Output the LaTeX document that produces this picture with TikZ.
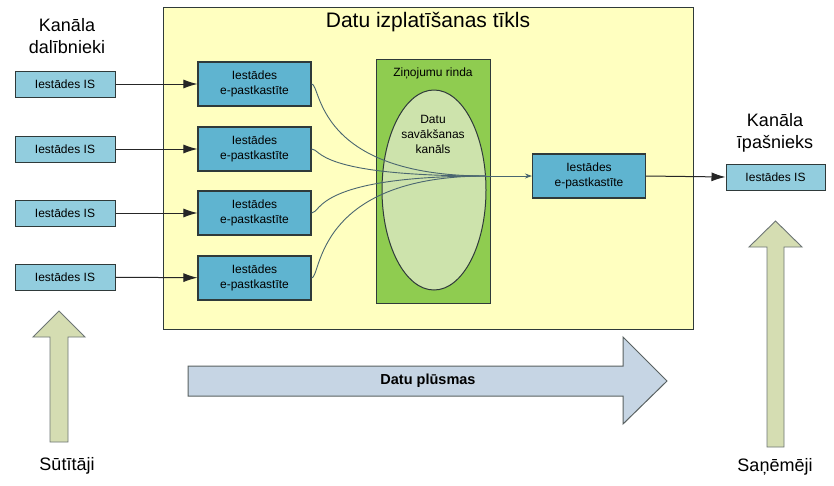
\documentclass[tikz,border=0pt]{standalone}
\usepackage{fontspec}
\setmainfont{Liberation Sans}
\usetikzlibrary{arrows.meta,shapes.geometric}
\definecolor{netyellow}{HTML}{FFFFC0}
\definecolor{mailblue}{HTML}{5FB4D0}
\definecolor{isblue}{HTML}{92CDDE}
\definecolor{queuegreen}{HTML}{8FCC50}
\definecolor{chanlight}{HTML}{CDE3AC}
\definecolor{flowblue}{HTML}{C6D5E4}
\definecolor{sideolive}{HTML}{D5DDB2}
\definecolor{boxline}{HTML}{2F3A3A}
\definecolor{curveline}{HTML}{4A6670}
\begin{document}
\begin{tikzpicture}[x=1pt,y=1pt]
\tikzstyle{every node}+=[inner sep=0pt, font=\fontsize{12}{15}\selectfont]
\tikzstyle{isbox}=[draw=boxline, line width=1pt, fill=isblue, minimum width=100pt, minimum height=26pt]
\tikzstyle{mailbox}=[draw=boxline, line width=1.1pt, fill=mailblue, minimum width=113pt, minimum height=44pt, align=center]
\tikzstyle{biglabel}=[font=\fontsize{18}{22}\selectfont, align=center]
\tikzstyle{sendarrow}=[draw=black!85, line width=1pt, -{Latex[length=14pt,width=9pt]}]
\tikzstyle{flowline}=[draw=curveline, line width=0.9pt]
\useasboundingbox (0,0) rectangle (834,-485);
\fill [white] (0,0) rectangle (834,-485);
% network
\node (net) [draw=boxline, line width=1pt, fill=netyellow, minimum width=530pt, minimum height=322pt] at (428,-168) {};
\node (title) [font=\fontsize{21}{25}\selectfont] at (428,-22) {Datu izplatīšanas tīkls};
\node (queue) [draw=boxline, line width=1pt, fill=queuegreen, minimum width=114pt, minimum height=244pt] at (433,-181) {};
\node (qlabel) at (433,-73) {Ziņojumu rinda};
\node (chan) [ellipse, draw=boxline, line width=1pt, fill=chanlight, minimum width=104pt, minimum height=200pt] at (434,-190) {};
\node (chlabel) [align=center] at (433,-134) {Datu\\savākšanas\\kanāls};
% senders
\node (partlabel) [biglabel] at (67,-36) {Kanāla\\dalībnieki};
\node (is1) [isbox] at (65,-84) {Iestādes IS};
\node (is2) [isbox] at (65,-149) {Iestādes IS};
\node (is3) [isbox] at (65,-213) {Iestādes IS};
\node (is4) [isbox] at (65,-277) {Iestādes IS};
\node (mb1) [mailbox] at (254.5,-84) {Iestādes\\e-pastkastīte};
\node (mb2) [mailbox] at (254.5,-149) {Iestādes\\e-pastkastīte};
\node (mb3) [mailbox] at (254.5,-213) {Iestādes\\e-pastkastīte};
\node (mb4) [mailbox] at (254.5,-278) {Iestādes\\e-pastkastīte};
\draw [sendarrow] (is1) -- (mb1);
\draw [sendarrow] (is2) -- (mb2);
\draw [sendarrow] (is3) -- (mb3);
\draw [sendarrow] (is4) -- (mb4);
% owner
\node (mbR) [mailbox] at (589,-176) {Iestādes\\e-pastkastīte};
\node (ownlabel) [biglabel] at (775,-133) {Kanāla\\īpašnieks};
\node (isR) [isbox, minimum width=99pt] at (775.5,-177) {Iestādes IS};
\draw [sendarrow] (mbR.east) -- (isR.west);
% curves into the channel
\coordinate (merge) at (486,-176);
\draw [flowline] (mb1.east) .. controls +(10,0) and +(-172,0) .. (merge);
\draw [flowline] (mb2.east) .. controls +(10,0) and +(-172,0) .. (merge);
\draw [flowline] (mb3.east) .. controls +(10,0) and +(-172,0) .. (merge);
\draw [flowline] (mb4.east) .. controls +(10,0) and +(-172,0) .. (merge);
\draw [flowline, -{Stealth[length=7pt,width=5pt]}] (merge) -- (mbR.west);
% flow arrow
\draw [draw=boxline!80, line width=1pt, fill=flowblue] (188,-366) -- (623,-366) -- (623,-337) -- (667,-381) -- (623,-424) -- (623,-396) -- (188,-396) -- cycle;
\node (flowlabel) [font=\bfseries\fontsize{14.5}{17}\selectfont] at (428,-381) {Datu plūsmas};
% side arrows
\draw [draw=boxline!70, line width=0.9pt, fill=sideolive] (50,-442) -- (50,-337) -- (33,-337) -- (59,-311) -- (85,-337) -- (68,-337) -- (68,-442) -- cycle;
\draw [draw=boxline!70, line width=0.9pt, fill=sideolive] (767,-447) -- (767,-247) -- (749,-247) -- (775.5,-221) -- (802,-247) -- (784,-247) -- (784,-447) -- cycle;
\node (sendlabel) [biglabel] at (67,-466) {Sūtītāji};
\node (recvlabel) [biglabel] at (775,-467) {Saņēmēji};
\end{tikzpicture}
\end{document}
